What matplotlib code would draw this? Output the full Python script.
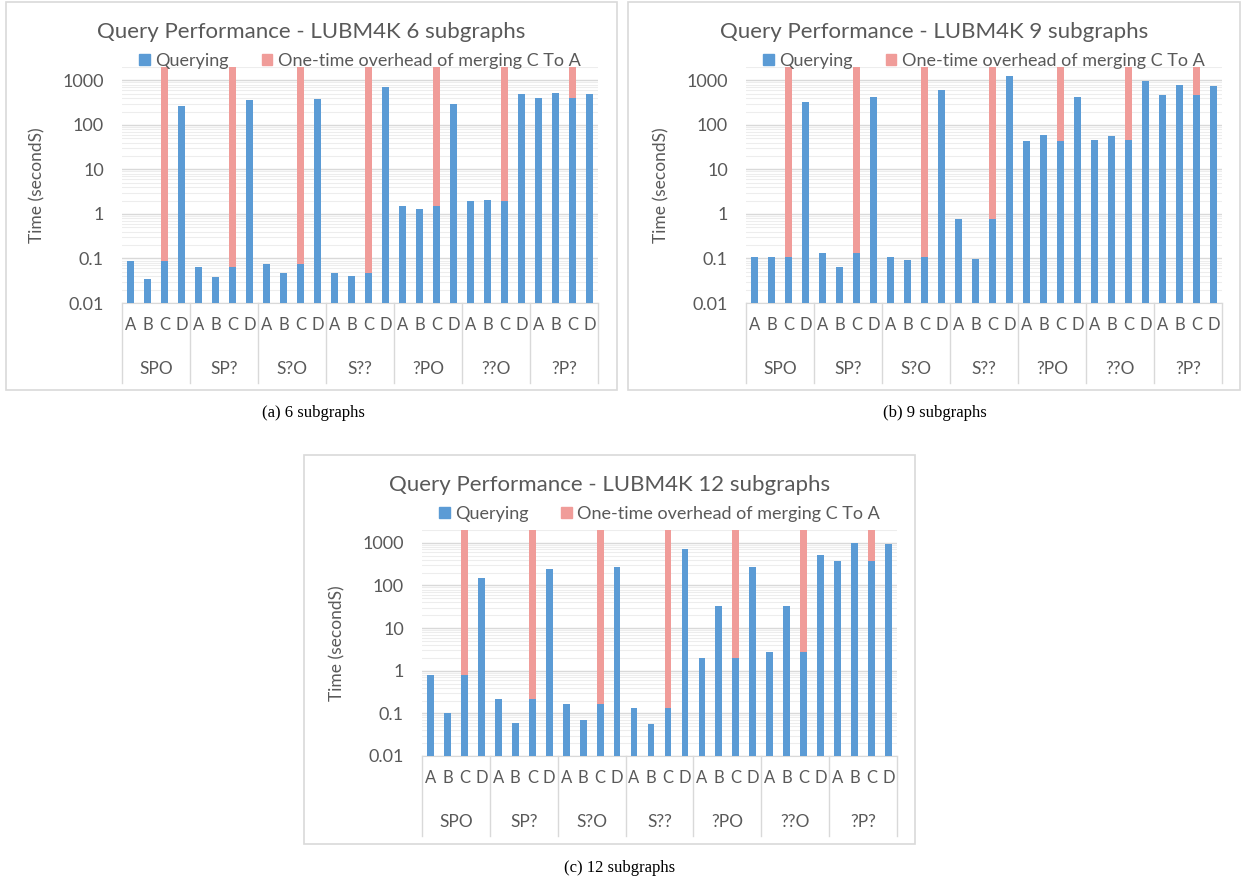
import matplotlib
matplotlib.use("Agg")
import matplotlib.pyplot as plt
from matplotlib.patches import Patch, Rectangle
from matplotlib.ticker import LogLocator, NullFormatter, FixedLocator, FixedFormatter

# categories
groups = ["SPO", "SP?", "S?O", "S??", "?PO", "??O", "?P?"]
variants = ["A", "B", "C", "D"]

# querying time (seconds), order: group by group, A B C D
query_6 = [0.089, 0.034, 0.089, 260, 0.063, 0.038, 0.063, 360,
           0.075, 0.048, 0.075, 390, 0.047, 0.041, 0.047, 710,
           1.5, 1.3, 1.5, 290, 2.0, 2.1, 2.0, 490,
           410, 520, 410, 500]
query_9 = [0.11, 0.11, 0.11, 330, 0.13, 0.063, 0.13, 420,
           0.107, 0.092, 0.107, 620, 0.76, 0.095, 0.76, 1230,
           43, 60, 43, 430, 46, 57, 46, 950,
           460, 770, 460, 730]
query_12 = [0.78, 0.10, 0.78, 148, 0.217, 0.060, 0.217, 246,
            0.166, 0.071, 0.166, 264, 0.133, 0.055, 0.133, 723,
            1.95, 33, 1.95, 264, 2.79, 33, 2.79, 513,
            379, 1018, 379, 947]

# one-time overhead of merging C to A (only on C bars, runs off the top of the axis)
overhead_6 = [2000, 2000, 2000, 2000, 2000, 2000, 2000]
overhead_9 = [2000, 2000, 2000, 2000, 2000, 2000, 2000]
overhead_12 = [2000, 2000, 2000, 2000, 2000, 2000, 2000]

ytick_vals = [0.01, 0.1, 1, 10, 100, 1000]
ytick_labels = ["0.01", "0.1", "1", "10", "100", "1000"]

BLUE = "#5B9BD5"
PINK = "#F09C99"
GRID = "#D9D9D9"
TXT = "#595959"
FONT = ["Lato", "DejaVu Sans"]

W, H = 1243, 881
fig = plt.figure(figsize=(W / 100, H / 100), dpi=100)
fig.patch.set_facecolor("white")


def box(x0, y0, x1, y1):
    return [x0 / W, 1 - y1 / H, (x1 - x0) / W, (y1 - y0) / H]


def draw(rect, frame, query, overhead, title, caption, cap_x, cap_y):
    fx0, fy0, fx1, fy1 = frame
    fig.add_artist(Rectangle((fx0 / W, 1 - fy1 / H), (fx1 - fx0) / W, (fy1 - fy0) / H,
                             transform=fig.transFigure, facecolor="none",
                             edgecolor=GRID, lw=1.2))
    ax = fig.add_axes(box(*rect))
    xs = list(range(len(query)))
    oh = []
    for g in range(len(groups)):
        for v in variants:
            oh.append(overhead[g] if v == "C" else 0)
    ax.bar(xs, query, width=0.4, color=BLUE, zorder=3)
    ax.bar(xs, oh, width=0.4, bottom=query, color=PINK, zorder=3)
    ax.set_yscale("log")
    ax.set_ylim(0.01, 2000)
    ax.set_xlim(-0.5, len(query) - 0.5)
    ax.yaxis.set_major_locator(FixedLocator(ytick_vals))
    ax.yaxis.set_major_formatter(FixedFormatter(ytick_labels))
    ax.yaxis.set_minor_locator(LogLocator(base=10, subs=range(2, 10)))
    ax.yaxis.set_minor_formatter(NullFormatter())
    ax.grid(True, axis="y", which="major", color=GRID, lw=1.0, zorder=0)
    ax.grid(True, axis="y", which="minor", color="#EDEDED", lw=0.8, zorder=0)
    for s in ["top", "right", "left"]:
        ax.spines[s].set_visible(False)
    ax.spines["bottom"].set_color(GRID)
    ax.tick_params(which="both", length=0)
    ax.tick_params(axis="y", pad=13, labelsize=13, labelcolor=TXT)
    ax.set_xticks(xs)
    ax.set_xticklabels(variants * len(groups), fontsize=12, color=TXT, family=FONT)
    ax.tick_params(axis="x", pad=10)
    for lab in ax.get_yticklabels():
        lab.set_family(FONT)
    ax.set_ylabel("Time (secondS)", fontsize=12.5, color=TXT, family=FONT, labelpad=12)

    h_px = ax.get_position().height * H
    trans = ax.get_xaxis_transform()
    for g in range(len(groups) + 1):
        b = g * 4 - 0.5
        ax.plot([b, b], [0, -80 / h_px], transform=trans, clip_on=False, color=GRID, lw=1.0)
    for g, name in enumerate(groups):
        ax.text(g * 4 + 1.5, -66 / h_px, name, transform=trans, ha="center", va="center",
                fontsize=12.5, color=TXT, family=FONT)

    fig.text((fx0 + fx1) / 2 / W, 1 - (fy0 + 30) / H, title, ha="center", va="center",
             fontsize=16, color=TXT, family=FONT)
    handles = [Patch(color=BLUE, label="Querying"),
               Patch(color=PINK, label="One-time overhead of merging C To A")]
    fig.legend(handles=handles, loc="center", ncol=2, frameon=False,
               bbox_to_anchor=((rect[0] + rect[2]) / 2 / W, 1 - (fy0 + 59) / H),
               prop={"family": FONT, "size": 13}, labelcolor=TXT,
               handlelength=0.6, handleheight=0.6, handletextpad=0.3, columnspacing=1.8)
    fig.text(cap_x / W, 1 - cap_y / H, caption, ha="center", va="center",
             fontsize=12, family="Liberation Serif", color="black")


draw((122, 67, 598, 303), (6, 2, 617, 390), query_6, overhead_6,
     "Query Performance - LUBM4K 6 subgraphs", "(a) 6 subgraphs", 313, 413)
draw((746, 67, 1222, 303), (628, 2, 1240, 390), query_9, overhead_9,
     "Query Performance - LUBM4K 9 subgraphs", "(b) 9 subgraphs", 935, 413)
draw((422, 530, 897, 756), (304, 455, 915, 844), query_12, overhead_12,
     "Query Performance - LUBM4K 12 subgraphs", "(c) 12 subgraphs", 620, 868)

fig.savefig("out.png", dpi=100, facecolor="white")
